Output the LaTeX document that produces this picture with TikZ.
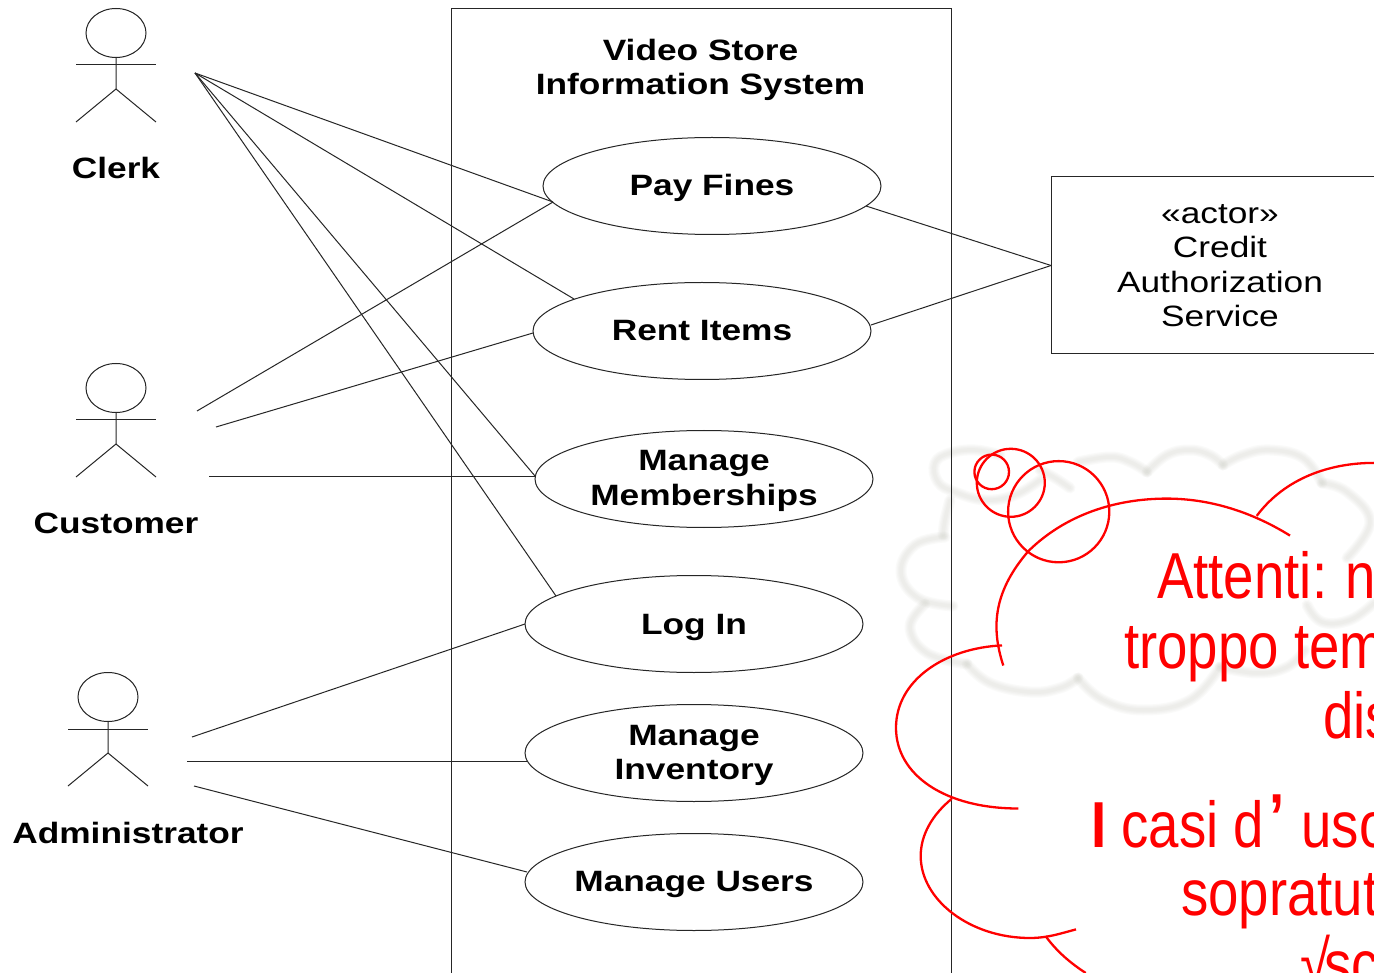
\documentclass[tikz,border=0pt]{standalone}
\usepackage{fontspec}
\setmainfont{Liberation Sans}
\newfontfamily\umlfont[FakeStretch=1.2]{Liberation Sans}
\newfontfamily\redfont[FakeStretch=0.84]{Liberation Sans}
\usetikzlibrary{shapes.geometric,calc}
\definecolor{ghostc}{RGB}{190,192,180}
\tikzset{
  lin/.style={line width=1pt,draw=black!85},
  usecase/.style={ellipse,lin,minimum width=338pt,minimum height=97pt,inner sep=0pt,outer sep=0pt},
  lbl/.style={align=center,font=\umlfont\bfseries\fontsize{29.4}{34.5}\selectfont,inner sep=0pt},
  note/.style={red,anchor=base west,inner sep=0pt,font=\redfont\fontsize{65}{70}\selectfont},
  bub/.style={red,line width=2.3pt},
  figure/.pic={
    \draw[lin] (116,33) ellipse[x radius=30,y radius=24.5];
    \draw[lin] (76,65) -- (156,65);
    \draw[lin] (116,57.5) -- (116,89) -- (76,122);
    \draw[lin] (116,89) -- (156,122);
  },
  ghostl/.style={draw=ghostc,line cap=round,line join=round,opacity=0.07,line width=#1},
}
\newcommand{\ghostpaths}[1]{%
  \draw[ghostl=#1] plot[smooth,tension=.7] coordinates {(1000,455)(975,450)(950,453)(935,463)(938,482)(955,492)(985,500)(1015,495)(1040,480)};
  \draw[ghostl=#1] plot[smooth,tension=.7] coordinates {(1040,470)(1055,478)(1070,488)};
  \draw[ghostl=#1] plot[smooth,tension=.7] coordinates {(950,500)(945,520)(943,535)};
  \draw[ghostl=#1] plot[smooth,tension=.7] coordinates {(945,537)(915,545)(901,572)(918,598)(953,606)};
  \draw[ghostl=#1] plot[smooth,tension=.7] coordinates {(925,604)(910,627)(927,653)(967,664)};
  \draw[ghostl=#1] plot[smooth,tension=.7] coordinates {(967,664)(990,683)(1030,692)(1060,688)(1078,678)};
  \draw[ghostl=#1] plot[smooth,tension=.7] coordinates {(1078,678)(1103,700)(1143,710)(1190,700)(1220,667)};
  \draw[ghostl=#1] plot[smooth,tension=.7] coordinates {(1220,667)(1257,673)(1287,667)(1305,650)};
  \draw[ghostl=#1] plot[smooth,tension=.7] coordinates {(1307,605)(1322,622)(1350,620)(1374,603)};
  \draw[ghostl=#1] plot[smooth,tension=.7] coordinates {(1078,462)(1110,457)(1130,462)(1147,472)};
  \draw[ghostl=#1] plot[smooth,tension=.7] coordinates {(1147,472)(1167,455)(1190,450)(1210,455)(1223,465)};
  \draw[ghostl=#1] plot[smooth,tension=.7] coordinates {(1223,465)(1243,455)(1270,450)(1303,458)(1322,483)};
  \draw[ghostl=#1] plot[smooth,tension=.7] coordinates {(1322,483)(1347,492)(1370,522)(1347,558)};
}
\begin{document}
\begin{tikzpicture}[x=1pt,y=-1pt]
\useasboundingbox (0,0) rectangle (1374,973);
\clip (0,0) rectangle (1374,973);
\fill[white] (0,0) rectangle (1374,973);

% faint cloud behind
\ghostpaths{11pt}
\ghostpaths{8.5pt}
\ghostpaths{6pt}
\ghostpaths{3.5pt}

% system boundary
\draw[lin] (451,985) -- (451,8.5) -- (951,8.5) -- (951,985);
\node[lbl] (title) at (700.5,70) {Video Store\\Information System};

% use cases
\node[usecase] (pay) at (712,186) {};
\node[usecase] (rent) at (702,331) {};
\node[usecase] (memb) at (704,479) {};
\node[usecase] (login) at (694,624) {};
\node[usecase] (inv) at (694,753) {};
\node[usecase] (users) at (694,882) {};
\node[lbl] (payl) at (712,187.5) {Pay Fines};
\node[lbl] (rentl) at (702,331) {Rent Items};
\node[lbl] (membl) at (704,481) {Manage\\Memberships};
\node[lbl] (loginl) at (694,627) {Log In};
\node[lbl] (invl) at (694,755.5) {Manage\\Inventory};
\node[lbl] (usersl) at (694,884) {Manage Users};

% external actor
\node[lin,rectangle,minimum width=338pt,minimum height=177pt,inner sep=0pt,outer sep=0pt,align=center,
  font=\umlfont\fontsize{29.4}{34.5}\selectfont] (credit) at (1220,265.5) {«actor»\\Credit\\Authorization\\Service};

% actors
\pic at (0,0) {figure};
\pic at (0,355) {figure};
\pic at (-8,664) {figure};
\node[lbl] (clerkl) at (116,168) {Clerk};
\node[lbl] (custl) at (116,523) {Customer};
\node[lbl] (adminl) at (128,833) {Administrator};

% free ends
\coordinate (clerk) at (195,73);
\coordinate (custa) at (197,411);
\coordinate (custb) at (216,427);
\coordinate (custc) at (209,476.5);
\coordinate (adma) at (192,737);
\coordinate (admb) at (187,761);
\coordinate (admc) at (194,786);

% connectors
\draw[lin] (clerk) -- ($(pay.center)+(-159,16)$);
\draw[lin] (clerk) -- ($(rent.center)+(-128,-32)$);
\draw[lin] (clerk) -- ($(memb.center)+(-169,-3)$);
\draw[lin] (clerk) -- ($(login.center)+(-138,-28)$);
\draw[lin] (custa) -- ($(pay.center)+(-159,16)$);
\draw[lin] (custb) -- ($(rent.center)+(-169,2)$);
\draw[lin] (custc) -- ($(memb.center)+(-169,-2.5)$);
\draw[lin] (adma) -- (login.west);
\draw[lin] (admb) -- ($(inv.center)+(-167.5,8)$);
\draw[lin] (admc) -- ($(users.center)+(-167,-10)$);
\draw[lin] ($(pay.center)+(154,20)$) -- (credit.west);
\draw[lin] ($(rent.center)+(169,-6)$) -- (credit.west);

% red thought bubble
\draw[bub] (991.7,471.9) circle[radius=17.3];
\draw[bub] (1010.8,482.8) circle[radius=34];
\draw[bub] (1058.7,511.7) circle[radius=50.6];
\draw[bub] (1003.3,665.5) .. controls (990,625) and (995,590) .. (1028.3,551.2)
  .. controls (1065,515) and (1115,498.6) .. (1166.7,498.6)
  .. controls (1210,498.6) and (1252,512) .. (1290,535.6);
\draw[bub] (1256.7,515.9) .. controls (1285,478) and (1330,462.9) .. (1374,462.9);
\draw[bub] (1002,645.4) .. controls (945,648) and (896,680) .. (896,727.8)
  .. controls (896,775) and (945,808.5) .. (1018.3,808.5);
\draw[bub] (951.7,798.8) .. controls (932,815) and (920.7,835) .. (920.7,856)
  .. controls (920.7,900) and (970,938) .. (1030,938)
  .. controls (1048,938) and (1062,933) .. (1076,929.4);
\draw[bub] (1045.7,936.3) .. controls (1058,953) and (1072,964) .. (1085.7,973);

% note text, cut by the picture's edge
\node[note] (n1) at (1157,598) {Attenti:\kern-2pt{} n};
\node[note] (n2) at (1124,668) {troppo tem};
\node[note] (n3) at (1323,738) {dis};
\node[note] (n4) at (1091,847) {{\bfseries I} casi d\kern5pt\raisebox{8pt}{\bfseries ’}\kern2pt{} uso};
\node[note] (n5) at (1181,915) {sopratut};
\node[note] (n6) at (1300,986) {√\kern-6pt sc};
\end{tikzpicture}
\end{document}
